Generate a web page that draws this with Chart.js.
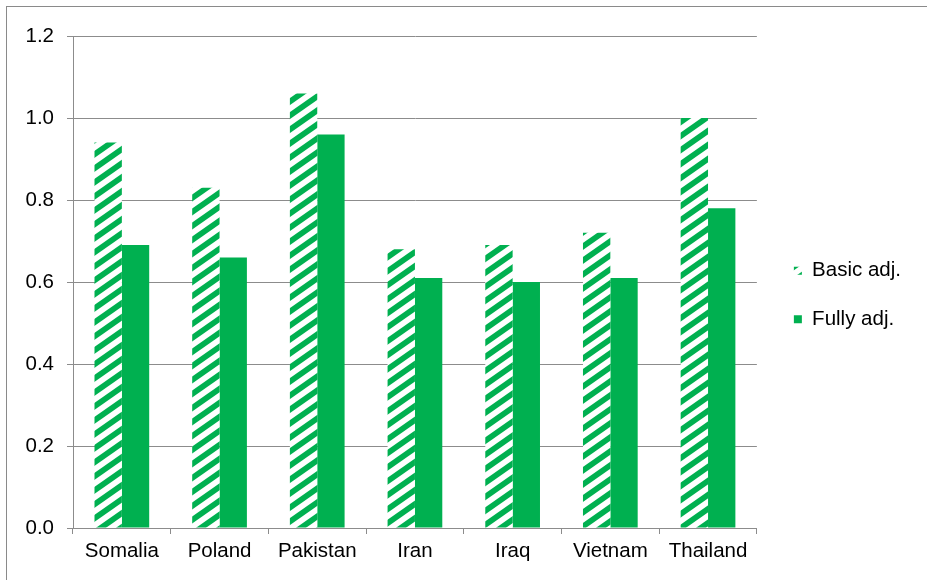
<!DOCTYPE html>
<html>
<head>
<meta charset="utf-8">
<script src="https://cdn.jsdelivr.net/npm/chart.js@4.4.1/dist/chart.umd.min.js"></script>
<style>
  html, body { margin: 0; padding: 0; background: #fff; overflow: hidden; }
  #frame {
    position: absolute; left: 6px; top: 6px;
    width: 960px; height: 620px;
    border: 1px solid #8a8a8a;
  }
  #chart_wrap { position: absolute; left: 0; top: 0; width: 927px; height: 580px; }
</style>
</head>
<body>
<div id="frame"></div>
<div id="chart_wrap"><canvas id="odds_chart_area"></canvas></div>
<script>
const countries = ["Somalia", "Poland", "Pakistan", "Iran", "Iraq", "Vietnam", "Thailand"];
const basic_adj = [0.94, 0.83, 1.06, 0.68, 0.69, 0.72, 1.00];
const fully_adj = [0.69, 0.66, 0.96, 0.61, 0.60, 0.61, 0.78];

const GREEN = "#00b050";
const GRID = "#8c8c8c";

// wide upward diagonal hatch for the basic adjusted bars
function makeHatch() {
  const w = 20, h = 14;
  const tile = document.createElement("canvas");
  tile.width = w;
  tile.height = h;
  const c = tile.getContext("2d");
  c.fillStyle = "#ffffff";
  c.fillRect(0, 0, w, h);
  c.fillStyle = GREEN;
  c.beginPath();
  c.moveTo(w / 2, 0);
  c.lineTo(w, 0);
  c.lineTo(0, h);
  c.lineTo(0, h / 2);
  c.closePath();
  c.fill();
  c.beginPath();
  c.moveTo(w, h / 2);
  c.lineTo(w, h);
  c.lineTo(w / 2, h);
  c.closePath();
  c.fill();
  return c.createPattern(tile, "repeat");
}

// nudge the legend block a bit right and up from where the layout puts it
const legendNudge = {
  id: "legendNudge",
  afterLayout(chart) {
    const lg = chart.legend;
    if (!lg) return;
    lg.left += 9;
    lg.right += 9;
    lg.top -= 13;
    lg.bottom -= 13;
  },
};

document.addEventListener("DOMContentLoaded", function () {
  Chart.defaults.font.family = "'Liberation Sans', Arial, sans-serif";
  Chart.defaults.font.size = 20.5;
  Chart.defaults.color = "#000";

  const ctx = document.getElementById("odds_chart_area").getContext("2d");
  const hatch = makeHatch();

  const odds_chart = new Chart(ctx, {
    type: "bar",
    data: {
      labels: countries,
      datasets: [
        {
          label: "Basic adj.",
          data: basic_adj,
          backgroundColor: hatch,
          borderWidth: 0,
          categoryPercentage: 0.56,
          barPercentage: 1.0,
        },
        {
          label: "Fully adj.",
          data: fully_adj,
          backgroundColor: GREEN,
          borderWidth: 0,
          categoryPercentage: 0.56,
          barPercentage: 1.0,
        },
      ],
    },
    plugins: [legendNudge],
    options: {
      responsive: true,
      maintainAspectRatio: false,
      animation: false,
      layout: {
        padding: { top: 36, right: 25, bottom: 0, left: 0 },
      },
      plugins: {
        legend: {
          position: "right",
          align: "center",
          labels: {
            boxWidth: 8,
            boxHeight: 8,
            padding: 28,
            color: "#000",
          },
        },
        tooltip: { enabled: false },
      },
      scales: {
        x: {
          grid: {
            offset: true,
            drawOnChartArea: false,
            color: GRID,
            tickLength: 6,
          },
          border: { color: GRID, width: 1 },
          ticks: { padding: 5, color: "#000" },
          afterFit: (scale) => { scale.height = 52; },
        },
        y: {
          min: 0,
          max: 1.2,
          ticks: {
            stepSize: 0.2,
            padding: 13,
            color: "#000",
            callback: (v) => Number(v).toFixed(1),
          },
          grid: { color: GRID, tickLength: 6 },
          border: { color: GRID, width: 1 },
          afterFit: (scale) => { scale.width = 73; },
        },
      },
    },
  });
});
</script>
</body>
</html>
